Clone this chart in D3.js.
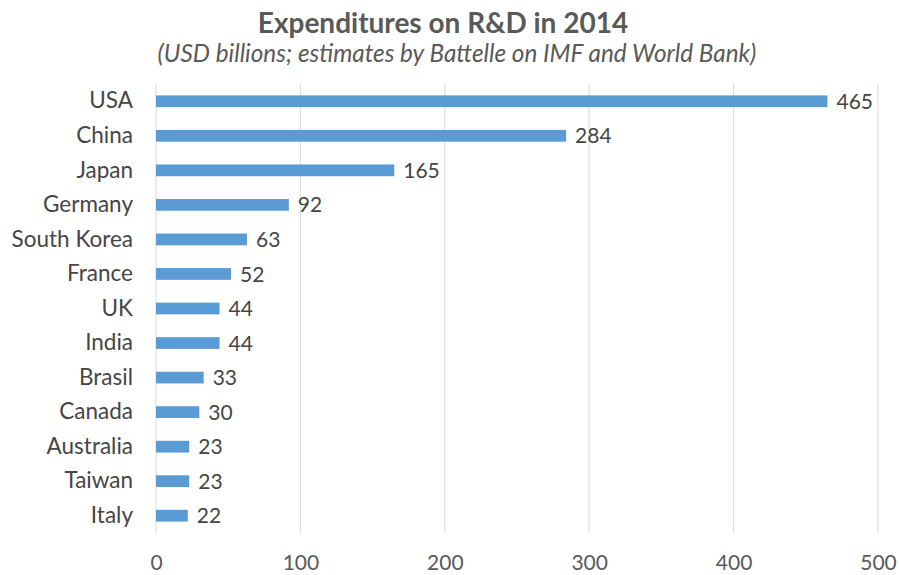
<!DOCTYPE html>
<html>
<head>
<meta charset="utf-8">
<script src="https://cdn.jsdelivr.net/npm/d3@7/dist/d3.min.js"></script>
<style>
  body { margin: 0; background: #fff; }
  svg { display: block; font-family: Lato, "Open Sans", sans-serif; }
</style>
</head>
<body>
<svg id="chart" width="899" height="575"></svg>
<script>
// R&D expenditures, 2014 (USD billions)
const countries = ["USA", "China", "Japan", "Germany", "South Korea", "France", "UK",
                   "India", "Brasil", "Canada", "Australia", "Taiwan", "Italy"];
const spending = [465, 284, 165, 92, 63, 52, 44, 44, 33, 30, 23, 23, 22];
const xTicks = [0, 100, 200, 300, 400, 500];

const titleText = "Expenditures on R&D in 2014";
const subtitleText = "(USD billions; estimates by Battelle on IMF and World Bank)";

const svg = d3.select("#chart");
const margin = { top: 84, left: 156, right: 21, bottom: 42 };
const W = 899, H = 575;
const FONT = "Lato, 'Open Sans', sans-serif";

const x = d3.scaleLinear().domain([0, 500]).range([margin.left, W - margin.right]);
const y = d3.scaleBand().domain(countries)
  .range([margin.top, 533]).paddingInner(0.66).paddingOuter(0.33);

// vertical gridlines
svg.append("g").selectAll("line").data(xTicks).join("line")
  .attr("x1", d => x(d)).attr("x2", d => x(d))
  .attr("y1", margin.top).attr("y2", 533)
  .attr("stroke", "#d9d9d9").attr("stroke-width", 1);

// x axis labels
const xAxis = d3.axisBottom(x).tickValues(xTicks).tickSize(0).tickPadding(0);
const gx = svg.append("g").attr("transform", "translate(0,570)").call(xAxis);
gx.select(".domain").remove();
gx.selectAll("text").attr("y", 0).attr("dy", 0)
  .attr("font-size", 21).attr("fill", "#595959").attr("font-family", FONT);

// y axis labels
const yAxis = d3.axisLeft(y).tickSize(0).tickPadding(23);
const gy = svg.append("g").attr("transform", `translate(${margin.left},0)`).call(yAxis);
gy.select(".domain").remove();
gy.selectAll("text").attr("font-size", 22.5).attr("fill", "#454545")
  .attr("font-family", FONT);

// bars
svg.append("g").selectAll("rect").data(countries).join("rect")
  .attr("x", x(0))
  .attr("y", d => y(d))
  .attr("width", (d, i) => x(spending[i]) - x(0))
  .attr("height", y.bandwidth())
  .attr("fill", "#5b9bd5");

// value labels
svg.append("g").selectAll("text").data(countries).join("text")
  .attr("x", (d, i) => x(spending[i]) + 9)
  .attr("y", d => y(d) + y.bandwidth() / 2)
  .attr("dy", "0.36em")
  .attr("font-size", 21).attr("fill", "#454545")
  .text((d, i) => spending[i]);

// titles
svg.append("text").attr("x", 443).attr("y", 33).attr("text-anchor", "middle")
  .attr("font-size", 28).attr("font-weight", "bold").attr("fill", "#595959")
  .text(titleText);
svg.append("text").attr("x", 457).attr("y", 62).attr("text-anchor", "middle")
  .attr("font-size", 24.3).attr("font-style", "italic").attr("fill", "#595959")
  .text(subtitleText);
</script>
</body>
</html>
